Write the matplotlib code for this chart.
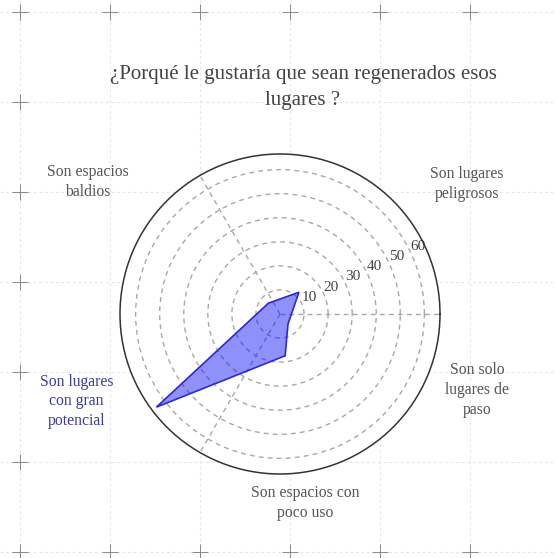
import numpy as np
import matplotlib
matplotlib.use("Agg")
import matplotlib.pyplot as plt

# ---------------- data ----------------
categories = [
    "Son lugares\npeligrosos",
    "Son espacios\nbaldios",
    "Son lugares\ncon gran\npotencial",
    "Son espacios con\npoco uso",
    "Son solo\nlugares de\npaso",
]
angles_deg = [49, 137, 217, 277, 309]
values = [12.0, 6.6, 64.3, 17.5, 5.3]
r_ticks = [10, 20, 30, 40, 50, 60]
r_tick_labels = ["10", "20", "30", "40", "50", "60"]
theta_grid_deg = [0, 120, 240]
highlight = "Son lugares\ncon gran\npotencial"
title = "¿Porqué le gustaría que sean regenerados esos\nlugares ?"

# ---------------- placement / style ----------------
label_angle_deg = [34.8, 145.6, 203.2, 277.5, 338.9]
label_radius = [94.6, 97.0, 92.0, 79.2, 87.7]
R_MAX = 66.5
SERIF = ["Liberation Serif", "DejaVu Serif"]

W, H = 555, 558
fig = plt.figure(figsize=(W / 100, H / 100), dpi=100)
fig.patch.set_facecolor("white")

# background page grid
bg = fig.add_axes([0, 0, 1, 1], zorder=0)
bg.set_xlim(0, W)
bg.set_ylim(H, 0)
bg.axis("off")
xs = list(range(20, W, 90))
ys = list(range(12, H, 90))
for x in xs:
    bg.axvline(x, color="#e6e6e6", lw=0.8, ls=(0, (2.5, 2.5)))
for y in ys:
    bg.axhline(y, color="#e6e6e6", lw=0.8, ls=(0, (2.5, 2.5)))
plus_pts = [(x, ys[0]) for x in xs] + [(x, ys[-1]) for x in xs] + [(xs[0], y) for y in ys]
bg.plot([p[0] for p in plus_pts], [p[1] for p in plus_pts], ls="none",
        marker="+", ms=11, mew=0.7, color="#8a8a8a")

# polar chart
cx, cy, rad = 280, 314, 160
ax = fig.add_axes([(cx - rad) / W, (H - cy - rad) / H, 2 * rad / W, 2 * rad / H],
                  projection="polar", zorder=1)
ax.set_facecolor("white")
ax.set_ylim(0, R_MAX)
ax.set_thetagrids(theta_grid_deg, labels=[""] * len(theta_grid_deg))
ax.set_rgrids(r_ticks, r_tick_labels, angle=25, fontsize=11, color="#444444",
              family=SERIF)
ax.grid(True, color="#a8a8a8", lw=1.0, ls=(0, (3.5, 3)))
ax.spines["polar"].set_color("#333333")
ax.spines["polar"].set_linewidth(1.1)

th = np.deg2rad(angles_deg)
ax.fill(np.r_[th, th[0]], np.r_[values, values[0]],
        facecolor=(0.05, 0.05, 0.97, 0.46), edgecolor="#2a2ad0", lw=1.2, zorder=3)

for cat, a, r in zip(categories, label_angle_deg, label_radius):
    col = "#3c3c9c" if cat == highlight else "#555555"
    ax.text(np.deg2rad(a), r, cat, ha="center", va="center", fontsize=11.3,
            color=col, family=SERIF, linespacing=1.3, clip_on=False)

fig.text(303 / W, 1 - 88 / H, title, ha="center", va="center", fontsize=15,
         color="#444444", family=SERIF, linespacing=1.5)

fig.savefig("out.png", dpi=100, facecolor="white")
